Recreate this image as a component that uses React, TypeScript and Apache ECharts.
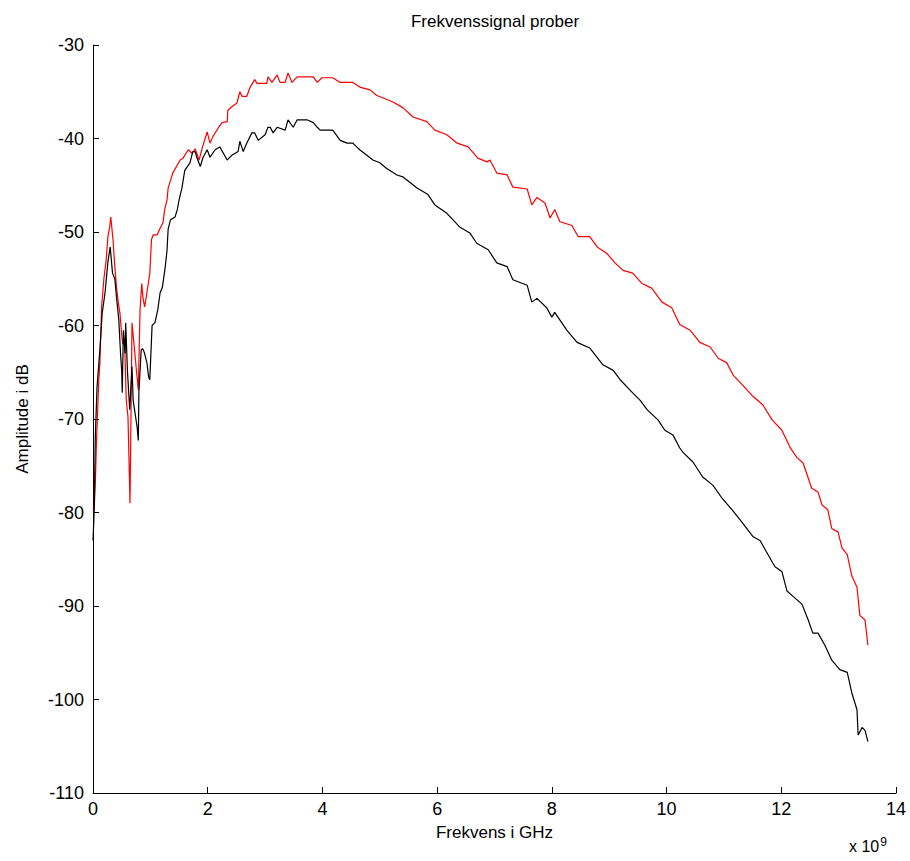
import React, { useEffect, useRef } from "react";
import * as echarts from "echarts";

const xTicks = [0, 2, 4, 6, 8, 10, 12, 14];
const yTicks = [-110, -100, -90, -80, -70, -60, -50, -40, -30];

// Red probe: frequency (x 10^9 Hz) and amplitude (dB)
const redFreq = [
  0.0, 0.02, 0.04, 0.06, 0.07, 0.1, 0.12, 0.15, 0.19, 0.23, 0.26, 0.29, 0.31, 0.35, 0.38, 0.41, 0.44, 0.47, 0.5, 0.52,
  0.55, 0.58, 0.61, 0.63, 0.645, 0.68, 0.73, 0.76, 0.79, 0.82, 0.85, 0.87, 0.9, 0.94, 0.99, 1.02, 1.05, 1.12, 1.17, 1.22,
  1.25, 1.29, 1.31, 1.39, 1.52, 1.57, 1.66, 1.73, 1.78, 1.85, 1.91, 1.99, 2.04, 2.09, 2.18, 2.25, 2.34, 2.35, 2.42, 2.51,
  2.56, 2.6, 2.68, 2.74, 2.82, 2.86, 2.95, 3.03, 3.05, 3.12, 3.21, 3.26, 3.35, 3.4, 3.47, 3.56, 3.7, 3.84, 3.91, 3.99,
  4.18, 4.31, 4.53, 4.65, 4.83, 4.95, 5.23, 5.4, 5.58, 5.82, 5.96, 6.17, 6.35, 6.54, 6.71, 6.87, 6.92, 7.04, 7.22, 7.32,
  7.57, 7.65, 7.74, 7.88, 7.97, 8.05, 8.14, 8.35, 8.46, 8.66, 8.79, 8.96, 9.1, 9.24, 9.41, 9.57, 9.74, 9.92, 10.09, 10.23,
  10.41, 10.58, 10.76, 10.9, 11.05, 11.16, 11.33, 11.51, 11.68, 11.84, 12.01, 12.15, 12.27, 12.38, 12.53, 12.64, 12.71,
  12.81, 12.88, 12.99, 13.06, 13.15, 13.23, 13.32, 13.37, 13.46, 13.51,
];
const redAmp = [
  -79.5, -79.7, -77.0, -72.5, -70.9, -66.0, -64.0, -58.0, -55.0, -53.0, -50.5, -49.5, -48.4, -50.9, -53.7, -55.9, -57.5,
  -58.7, -61.0, -62.0, -61.5, -68.0, -69.8, -75.0, -79.0, -59.7, -63.0, -65.0, -66.9, -58.3, -55.5, -57.0, -58.0, -56.5,
  -54.4, -50.8, -50.3, -50.3, -49.6, -49.0, -47.6, -46.6, -45.3, -43.7, -42.3, -42.1, -41.2, -41.6, -41.1, -42.3, -40.9,
  -39.3, -40.5, -39.8, -38.9, -38.3, -38.2, -37.0, -36.6, -36.2, -35.0, -35.5, -35.5, -34.5, -33.7, -34.1, -34.1, -34.1,
  -33.4, -34.0, -33.2, -34.0, -34.0, -33.0, -34.0, -33.4, -33.4, -33.4, -34.0, -33.5, -33.5, -34.0, -34.0, -34.5, -34.8,
  -35.4, -36.1, -36.7, -37.7, -38.2, -39.1, -39.6, -40.5, -40.9, -42.1, -42.5, -42.3, -43.7, -43.9, -45.2, -45.4, -47.1,
  -46.3, -46.9, -48.5, -47.6, -48.9, -49.3, -50.5, -50.5, -51.6, -52.3, -53.3, -54.1, -54.4, -55.5, -56.0, -57.5, -58.1,
  -59.9, -60.5, -61.8, -62.3, -63.5, -64.0, -65.3, -66.4, -67.6, -68.5, -70.1, -71.2, -73.0, -74.1, -74.7, -77.4, -77.8,
  -79.2, -79.7, -81.7, -82.1, -83.8, -84.5, -86.8, -88.0, -91.0, -91.5, -94.2,
];

// Black probe
const blackFreq = [
  0.0, 0.02, 0.04, 0.07, 0.12, 0.16, 0.21, 0.26, 0.3, 0.34, 0.38, 0.41, 0.45, 0.48, 0.5, 0.51, 0.53, 0.56, 0.57, 0.6,
  0.64, 0.68, 0.7, 0.77, 0.79, 0.8, 0.84, 0.87, 0.9, 0.94, 0.97, 0.99, 1.0, 1.03, 1.08, 1.13, 1.17, 1.21, 1.26, 1.29,
  1.31, 1.35, 1.43, 1.47, 1.5, 1.55, 1.6, 1.69, 1.74, 1.78, 1.81, 1.87, 1.92, 1.99, 2.04, 2.13, 2.21, 2.34, 2.42, 2.53,
  2.56, 2.62, 2.68, 2.77, 2.82, 2.88, 3.0, 3.05, 3.09, 3.14, 3.21, 3.35, 3.4, 3.49, 3.56, 3.73, 3.84, 3.91, 3.96, 4.18,
  4.31, 4.43, 4.53, 4.65, 4.88, 5.0, 5.12, 5.3, 5.4, 5.65, 5.84, 5.96, 6.17, 6.4, 6.57, 6.69, 6.89, 7.04, 7.22, 7.32,
  7.57, 7.65, 7.74, 7.91, 8.0, 8.05, 8.26, 8.44, 8.66, 8.89, 9.07, 9.19, 9.41, 9.54, 9.66, 9.85, 9.97, 10.11, 10.23,
  10.29, 10.46, 10.63, 10.81, 10.97, 11.14, 11.31, 11.51, 11.63, 11.75, 11.89, 12.01, 12.1, 12.21, 12.36, 12.47, 12.55,
  12.64, 12.76, 12.88, 13.02, 13.15, 13.23, 13.32, 13.34, 13.41, 13.46, 13.51,
];
const blackAmp = [
  -83.0, -80.0, -72.0, -66.6, -62.6, -58.7, -56.5, -53.2, -51.6, -54.4, -55.0, -57.0, -59.4, -63.0, -64.8, -67.2, -60.5,
  -63.0, -59.7, -64.8, -69.0, -64.4, -68.0, -70.9, -72.3, -67.2, -62.6, -62.5, -63.0, -64.0, -65.5, -65.8, -64.4, -60.0,
  -59.7, -58.3, -56.5, -55.9, -53.7, -52.0, -49.7, -48.7, -48.4, -47.6, -46.6, -45.3, -43.4, -42.6, -41.4, -41.4, -42.0,
  -43.0, -42.0, -41.2, -42.0, -41.2, -40.9, -42.3, -41.8, -41.4, -40.3, -41.4, -40.5, -39.4, -39.4, -40.2, -39.6, -38.8,
  -38.8, -39.4, -38.8, -39.1, -38.0, -38.8, -38.0, -38.0, -38.3, -38.8, -39.1, -39.1, -40.2, -40.5, -40.5, -41.2, -42.3,
  -42.6, -43.2, -43.9, -44.1, -45.3, -46.0, -47.1, -48.0, -49.5, -50.1, -51.2, -51.9, -53.3, -53.7, -55.1, -55.7, -57.5,
  -57.1, -58.1, -59.1, -58.6, -60.5, -61.8, -62.4, -64.2, -64.8, -65.8, -67.2, -68.0, -69.0, -70.1, -71.2, -71.7, -73.1,
  -73.6, -74.6, -76.2, -77.1, -78.5, -79.7, -81.0, -82.6, -83.0, -84.3, -85.8, -86.3, -88.4, -89.0, -89.8, -91.5, -92.9,
  -92.9, -94.2, -95.8, -96.8, -97.1, -99.3, -101.1, -103.8, -103.0, -103.3, -104.5,
];

const FONT = "'Liberation Sans', Arial, sans-serif";

export default function App() {
  const ref = useRef<HTMLDivElement>(null);
  useEffect(() => {
    if (!ref.current) return;
    const chart = echarts.init(ref.current, undefined, { renderer: "svg" });
    const redData = redFreq.map((f, i) => [f, redAmp[i]]);
    const blackData = blackFreq.map((f, i) => [f, blackAmp[i]]);
    chart.setOption({
      animation: false,
      backgroundColor: "#ffffff",
      grid: { left: 93, top: 45, width: 803, height: 748, containLabel: false },
      graphic: [
        {
          type: "text",
          x: 495,
          y: 21,
          style: {
            text: "Frekvenssignal prober",
            fontSize: 17,
            fontFamily: FONT,
            fill: "#000",
            textAlign: "center",
            textVerticalAlign: "middle",
          },
        },
        {
          type: "text",
          x: 849,
          y: 836,
          style: {
            text: "x 10{sup|9}",
            fontSize: 16,
            fontFamily: FONT,
            fill: "#000",
            rich: { sup: { fontSize: 12, fontFamily: FONT, verticalAlign: "top", padding: [0, 0, 8, 1] } },
          },
        },
      ],
      xAxis: {
        type: "value",
        min: xTicks[0],
        max: xTicks[xTicks.length - 1],
        interval: 2,
        name: "Frekvens i GHz",
        nameLocation: "middle",
        nameGap: 31,
        nameTextStyle: { fontSize: 17, fontFamily: FONT, color: "#000" },
        axisLine: { onZero: false, lineStyle: { color: "#000", width: 1 } },
        axisTick: { inside: true, length: 6, lineStyle: { color: "#000" } },
        axisLabel: { fontSize: 18, fontFamily: FONT, color: "#000", margin: 7 },
        splitLine: { show: false },
      },
      yAxis: {
        type: "value",
        min: yTicks[0],
        max: yTicks[yTicks.length - 1],
        interval: 10,
        name: "Amplitude i dB",
        nameLocation: "middle",
        nameGap: 62,
        nameRotate: 90,
        nameTextStyle: { fontSize: 17, fontFamily: FONT, color: "#000" },
        axisLine: { onZero: false, lineStyle: { color: "#000", width: 1 } },
        axisTick: { inside: true, length: 6, lineStyle: { color: "#000" } },
        axisLabel: { fontSize: 18, fontFamily: FONT, color: "#000", margin: 9 },
        splitLine: { show: false },
      },
      series: [
        {
          type: "line",
          data: redData,
          showSymbol: false,
          lineStyle: { color: "#ff0000", width: 1.2 },
          itemStyle: { color: "#ff0000" },
        },
        {
          type: "line",
          data: blackData,
          showSymbol: false,
          lineStyle: { color: "#000000", width: 1.2 },
          itemStyle: { color: "#000000" },
        },
      ],
    });
    return () => chart.dispose();
  }, []);
  return (
    <div
      ref={ref}
      style={{ position: "fixed", left: 0, top: 0, width: 910, height: 861, background: "#fff" }}
    />
  );
}
